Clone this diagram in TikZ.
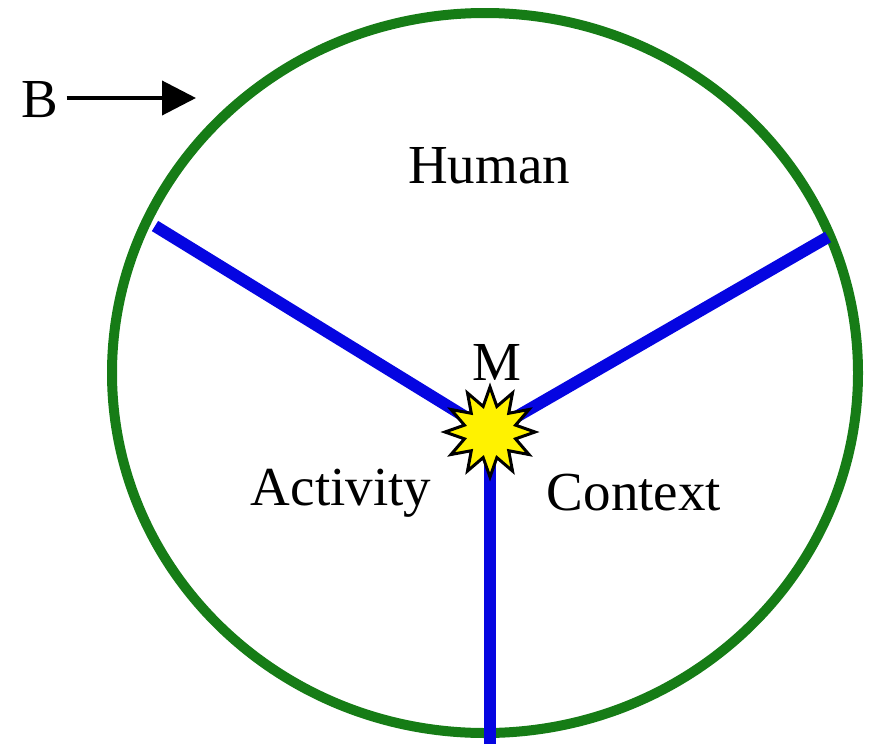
\documentclass[tikz,border=0pt]{standalone}
\usepackage{fontspec}
\setmainfont{Liberation Serif}
\usetikzlibrary{shapes.geometric,arrows.meta}
\definecolor{ringgreen}{RGB}{22,124,22}
\definecolor{spokeblue}{RGB}{5,5,225}
\tikzset{
  lbl/.style={font=\fontsize{55}{60}\selectfont, inner sep=0pt},
  spoke/.style={draw=spokeblue, line width=12pt},
  burst/.style={star, star points=12, star point ratio=1.7, minimum size=90pt,
    fill=yellow, draw=black, line width=3pt, inner sep=0pt}
}
\begin{document}
\begin{tikzpicture}[x=1pt,y=-1pt]
\useasboundingbox (0,0) rectangle (869,744);
\draw[ringgreen, line width=10pt] (485,373) ellipse [x radius=373, y radius=360];
\coordinate (cen) at (490,432);
\coordinate (lend) at (155,226);
\coordinate (rend) at (828,237);
\coordinate (bend) at (490,744);
\draw[spoke] (cen) -- (lend);
\draw[spoke] (cen) -- (rend);
\draw[spoke] (cen) -- (bend);
\node[burst] (m) at (cen) {};
\node[lbl] (mlab) at (497,362) {M};
\node[lbl] (human) at (489,166) {Human};
\node[lbl] (act) at (341,493) {Activity};
\node[lbl] (ctx) at (634,493) {Context};
\node[lbl] (b) at (40,100) {B};
\coordinate (btip) at (196,98);
\draw[line width=4pt, -{Triangle[length=34pt,width=34pt]}] (b.east) ++(8,-2) -- (btip);
\end{tikzpicture}
\end{document}
